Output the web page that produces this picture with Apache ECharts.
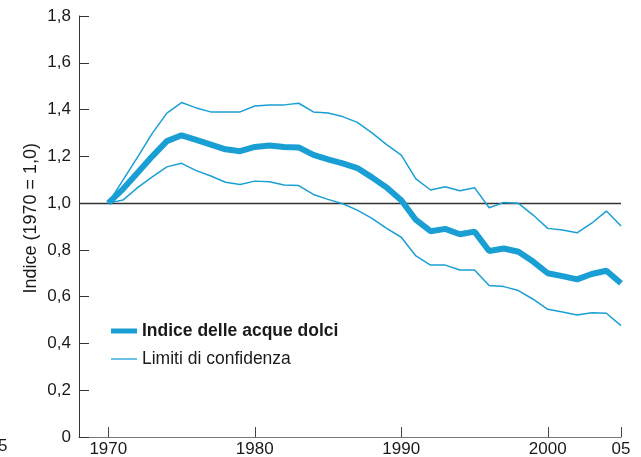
<!DOCTYPE html>
<html>
<head>
<meta charset="utf-8">
<script src="https://cdn.jsdelivr.net/npm/echarts@6/dist/echarts.min.js"></script>
<style>
  html, body { margin: 0; padding: 0; background: #fff; }
  #chart { width: 641px; height: 457px; }
</style>
</head>
<body>
<div id="chart"></div>
<script>
var years = [1970, 1971, 1972, 1973, 1974, 1975, 1976, 1977, 1978, 1979,
             1980, 1981, 1982, 1983, 1984, 1985, 1986, 1987, 1988, 1989,
             1990, 1991, 1992, 1993, 1994, 1995, 1996, 1997, 1998, 1999,
             2000, 2001, 2002, 2003, 2004, 2005];
var indice = [1.00, 1.06, 1.13, 1.20, 1.265, 1.29, 1.27, 1.25, 1.23, 1.222,
              1.24, 1.246, 1.24, 1.238, 1.206, 1.187, 1.17, 1.15, 1.11, 1.067,
              1.012, 0.928, 0.88, 0.89, 0.867, 0.878, 0.795, 0.806, 0.792, 0.75,
              0.70, 0.688, 0.674, 0.697, 0.711, 0.657];
var limiteSup = [1.00, 1.098, 1.197, 1.298, 1.385, 1.43, 1.407, 1.39, 1.39, 1.39,
                 1.415, 1.42, 1.42, 1.427, 1.39, 1.385, 1.37, 1.345, 1.30, 1.25,
                 1.205, 1.104, 1.056, 1.07, 1.053, 1.066, 0.98, 1.003, 0.999, 0.949,
                 0.892, 0.885, 0.873, 0.914, 0.966, 0.902];
var limiteInf = [1.00, 1.013, 1.066, 1.112, 1.155, 1.17, 1.139, 1.116, 1.089, 1.08,
                 1.094, 1.091, 1.077, 1.075, 1.037, 1.016, 0.997, 0.97, 0.935, 0.892,
                 0.854, 0.774, 0.735, 0.735, 0.714, 0.714, 0.648, 0.643, 0.626, 0.589,
                 0.546, 0.534, 0.522, 0.531, 0.529, 0.476];
var xTicks = [1970, 1980, 1990, 2000, 2005];

function pairs(vals) {
  return years.map(function (y, i) { return [y, vals[i]]; });
}

var blu = '#1a9fd4';
var testo = '#1a1a1a';
var font = 'Liberation Sans, Arial, Helvetica, sans-serif';

var chart = echarts.init(document.getElementById('chart'));
var option = {
  animation: false,
  textStyle: { fontFamily: font },
  grid: { left: 79, right: 20, top: 16, bottom: 20, containLabel: false, outerBoundsMode: 'none' },
  legend: {
    orient: 'vertical',
    left: 106,
    top: 317,
    itemWidth: 26,
    itemHeight: 14,
    itemGap: 10,
    symbolKeepAspect: true,
    textStyle: { fontSize: 17.5, color: testo, fontFamily: font },
    data: [
      { name: 'Indice delle acque dolci', icon: 'path://M0,0H26V5H0Z', textStyle: { fontWeight: 'bold' } },
      { name: 'Limiti di confidenza', icon: 'path://M0,0H26V1.3H0Z' }
    ]
  },
  xAxis: {
    type: 'value',
    min: 1968,
    max: 2005,
    axisLine: { lineStyle: { color: '#777', width: 1 } },
    axisTick: { inside: true, length: 10, customValues: xTicks, lineStyle: { color: '#444' } },
    axisLabel: {
      customValues: xTicks,
      fontSize: 17,
      color: testo,
      margin: 4,
      formatter: function (v) { return v === 2005 ? '05' : String(v); }
    },
    splitLine: { show: false }
  },
  yAxis: {
    type: 'value',
    min: 0,
    max: 1.8,
    interval: 0.2,
    axisLine: { show: true, lineStyle: { color: '#333', width: 1 } },
    axisTick: { show: true, inside: true, length: 10, lineStyle: { color: '#333' } },
    axisLabel: {
      fontSize: 17,
      color: testo,
      margin: 8,
      formatter: function (v) { return v === 0 ? '0' : v.toFixed(1).replace('.', ','); }
    },
    splitLine: { show: false }
  },
  graphic: [
    {
      type: 'text',
      left: 22,
      top: 143,
      rotation: Math.PI / 2,
      style: { text: 'Indice (1970 = 1,0)', font: '18px ' + font, fill: testo }
    },
    {
      type: 'text',
      x: -2,
      y: 438,
      style: { text: '5', font: '17px ' + font, fill: testo }
    }
  ],
  series: [
    {
      name: 'Limiti di confidenza',
      type: 'line',
      data: pairs(limiteSup),
      symbol: 'none',
      lineStyle: { color: blu, width: 1.5 },
      itemStyle: { color: blu },
      z: 3,
      markLine: {
        silent: true,
        symbol: 'none',
        label: { show: false },
        lineStyle: { color: '#333', width: 1.3, type: 'solid' },
        data: [{ yAxis: 1 }],
        z: 1
      }
    },
    {
      name: 'Limiti di confidenza',
      type: 'line',
      data: pairs(limiteInf),
      symbol: 'none',
      lineStyle: { color: blu, width: 1.5 },
      itemStyle: { color: blu },
      z: 3
    },
    {
      name: 'Indice delle acque dolci',
      type: 'line',
      data: pairs(indice),
      symbol: 'none',
      lineStyle: { color: blu, width: 6 },
      itemStyle: { color: blu },
      z: 4
    }
  ]
};
chart.setOption(option);
</script>
</body>
</html>
